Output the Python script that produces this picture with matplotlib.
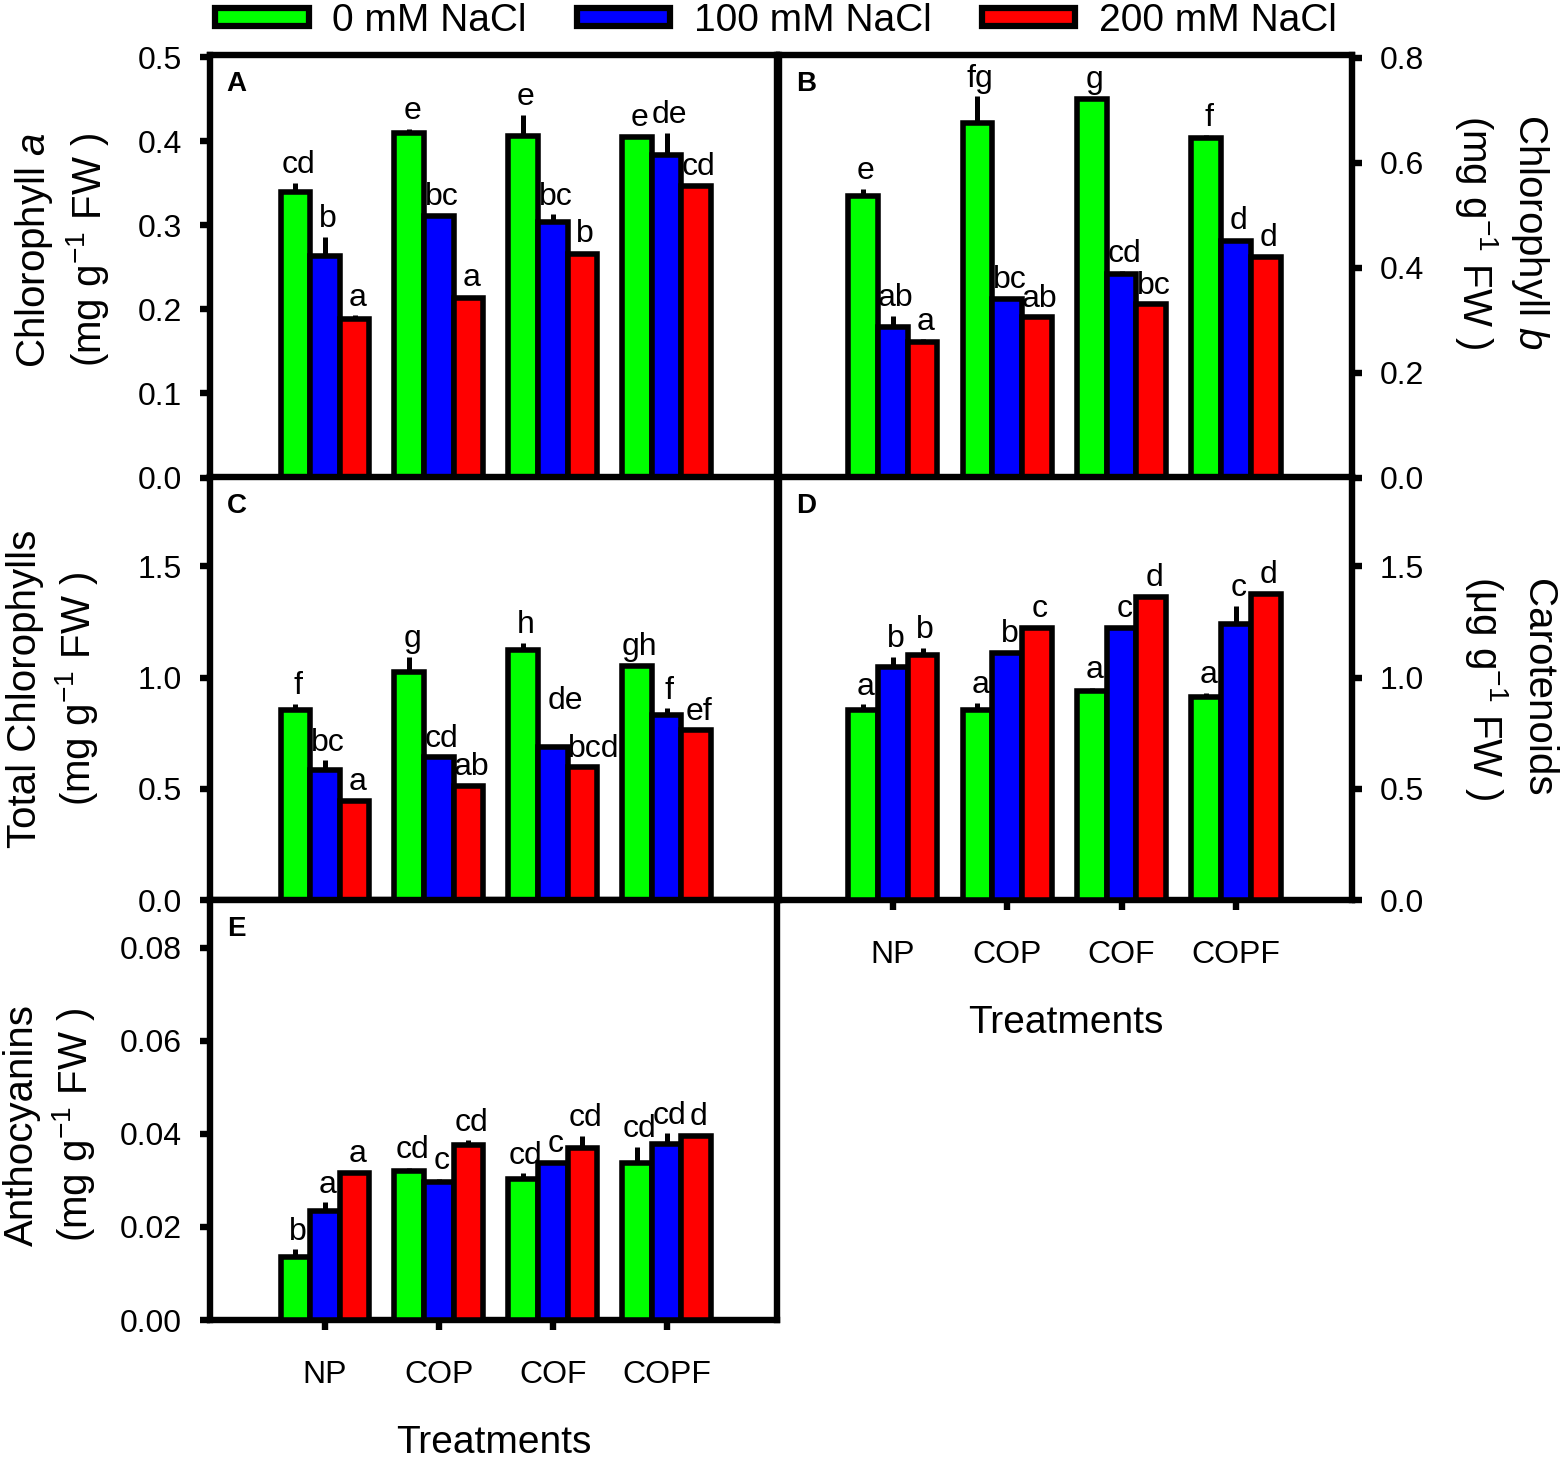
import numpy as np
import matplotlib
matplotlib.use("Agg")
import matplotlib.pyplot as plt
from matplotlib.patches import Patch

plt.rcParams['font.family'] = ['Liberation Sans', 'DejaVu Sans']
plt.rcParams['mathtext.fontset'] = 'custom'
plt.rcParams['mathtext.rm'] = 'Liberation Sans'
plt.rcParams['mathtext.it'] = 'Liberation Sans:italic'
plt.rcParams['mathtext.bf'] = 'Liberation Sans:bold'

# ---------------- data ----------------
treatments = ["NP", "COP", "COF", "COPF"]
series_names = ["0 mM NaCl", "100 mM NaCl", "200 mM NaCl"]
series_colors = ["#00FF00", "#0000FF", "#FF0000"]

# Panel A: Chlorophyll a
chla_0 = [0.340, 0.410, 0.406, 0.405]
chla_100 = [0.264, 0.311, 0.304, 0.384]
chla_200 = [0.188, 0.214, 0.266, 0.347]
chla_err_0 = [0.010, 0.005, 0.025, 0.002]
chla_err_100 = [0.022, 0.002, 0.009, 0.026]
chla_err_200 = [0.005, 0.002, 0.002, 0.001]
chla_letters_0 = ["cd", "e", "e", "e"]
chla_letters_100 = ["b", "bc", "bc", "de"]
chla_letters_200 = ["a", "a", "b", "cd"]

# Panel B: Chlorophyll b
chlb_0 = [0.536, 0.675, 0.722, 0.646]
chlb_100 = [0.287, 0.340, 0.388, 0.451]
chlb_200 = [0.259, 0.305, 0.330, 0.420]
chlb_err_0 = [0.014, 0.051, 0.002, 0.006]
chlb_err_100 = [0.021, 0.002, 0.005, 0.004]
chlb_err_200 = [0.004, 0.002, 0.002, 0.002]
chlb_letters_0 = ["e", "fg", "g", "f"]
chlb_letters_100 = ["ab", "bc", "cd", "d"]
chlb_letters_200 = ["a", "ab", "bc", "d"]

# Panel C: Total chlorophylls
tot_0 = [0.853, 1.024, 1.126, 1.051]
tot_100 = [0.586, 0.643, 0.688, 0.830]
tot_200 = [0.446, 0.514, 0.596, 0.763]
tot_err_0 = [0.028, 0.068, 0.030, 0.007]
tot_err_100 = [0.042, 0.003, 0.004, 0.032]
tot_err_200 = [0.007, 0.004, 0.003, 0.003]
tot_letters_0 = ["f", "g", "h", "gh"]
tot_letters_100 = ["bc", "cd", "de", "f"]
tot_letters_200 = ["a", "ab", "bcd", "ef"]

# Panel D: Carotenoids
car_0 = [0.855, 0.855, 0.942, 0.913]
car_100 = [1.047, 1.113, 1.225, 1.242]
car_200 = [1.100, 1.225, 1.363, 1.375]
car_err_0 = [0.025, 0.033, 0.013, 0.017]
car_err_100 = [0.045, 0.005, 0.005, 0.080]
car_err_200 = [0.033, 0.004, 0.004, 0.005]
car_letters_0 = ["a", "a", "a", "a"]
car_letters_100 = ["b", "b", "c", "c"]
car_letters_200 = ["b", "c", "d", "d"]

# Panel E: Anthocyanins
ant_0 = [0.0136, 0.0321, 0.0303, 0.0337]
ant_100 = [0.0235, 0.0297, 0.0337, 0.0378]
ant_200 = [0.0316, 0.0377, 0.0369, 0.0396]
ant_err_0 = [0.0016, 0.0006, 0.0012, 0.0035]
ant_err_100 = [0.0018, 0.0006, 0.0003, 0.0023]
ant_err_200 = [0.0003, 0.0009, 0.0027, 0.0002]
ant_letters_0 = ["b", "cd", "cd", "cd"]
ant_letters_100 = ["a", "c", "c", "cd"]
ant_letters_200 = ["a", "cd", "cd", "d"]

# y-axis ticks
chla_ticks = [0.0, 0.1, 0.2, 0.3, 0.4, 0.5]
chlb_ticks = [0.0, 0.2, 0.4, 0.6, 0.8]
tot_ticks = [0.0, 0.5, 1.0, 1.5]
car_ticks = [0.0, 0.5, 1.0, 1.5]
ant_ticks = [0.00, 0.02, 0.04, 0.06, 0.08]

# ---------------- figure ----------------
W, H = 1562, 1462
fig = plt.figure(figsize=(W / 100, H / 100), dpi=100)


def px_axes(x0, y0, x1, y1):
    return fig.add_axes([x0 / W, 1 - y1 / H, (x1 - x0) / W, (y1 - y0) / H])


SPINE_LW = 4.6
BAR_W = 0.26
TICK_FS = 23
LAB_FS = 29
LET_FS = 23

# manual label nudges (points) as in the reference layout
label_nudge = {("C", 1, 2): (7, 20), ("C", 2, 2): (6, 0)}


def draw_panel(ax, name, vals, errs, letters, ylim, yticks, fmt, xlim,
               right=False, show_xlabels=False):
    x = np.arange(len(treatments))
    offsets = [-BAR_W, 0.0, BAR_W]
    for k in range(3):
        xs = x + offsets[k]
        v = np.array(vals[k])
        e = np.array(errs[k])
        ax.bar(xs, v, width=BAR_W, color=series_colors[k], edgecolor="black",
               linewidth=4.0, zorder=3)
        ax.errorbar(xs, v, yerr=[np.zeros_like(e), e], fmt="none",
                    ecolor="black", elinewidth=3.6, capsize=0, zorder=2)
        for i, (xi, vi, ei, lt) in enumerate(zip(xs, v, e, letters[k])):
            dx, dy = label_nudge.get((name, k, i), (0, 0))
            ax.annotate(lt, (xi, vi + ei), xytext=(2 + dx, 7 + dy),
                        textcoords="offset points", ha="center",
                        va="baseline", fontsize=LET_FS, zorder=1)
    ax.set_xlim(*xlim)
    ax.set_ylim(*ylim)
    ax.set_yticks(yticks)
    ax.set_yticklabels([fmt.format(t) for t in yticks])
    ax.set_xticks(x)
    for s in ax.spines.values():
        s.set_linewidth(SPINE_LW)
    ax.tick_params(axis="both", direction="out", length=7, width=SPINE_LW,
                   labelsize=TICK_FS)
    ax.tick_params(axis="y", pad=13)
    ax.tick_params(axis="x", pad=22)
    if show_xlabels:
        ax.set_xticklabels(treatments)
        ax.set_xlabel("Treatments", fontsize=28, labelpad=25)
    else:
        ax.set_xticklabels([])
    if right:
        ax.yaxis.tick_right()
    ax.text(0.047, 0.932, name, transform=ax.transAxes,
            ha="center", va="center", fontsize=20, fontweight="bold")


xl_left = (-1.01, 3.97)
xl_right = (-0.995, 4.015)

axA = px_axes(210, 55, 777, 477.5)
draw_panel(axA, "A", [chla_0, chla_100, chla_200],
           [chla_err_0, chla_err_100, chla_err_200],
           [chla_letters_0, chla_letters_100, chla_letters_200],
           (0, 0.5025), chla_ticks, "{:.1f}", xl_left)

axB = px_axes(779, 55, 1352, 477.5)
draw_panel(axB, "B", [chlb_0, chlb_100, chlb_200],
           [chlb_err_0, chlb_err_100, chlb_err_200],
           [chlb_letters_0, chlb_letters_100, chlb_letters_200],
           (0, 0.805), chlb_ticks, "{:.1f}", xl_right, right=True)

axC = px_axes(210, 477.5, 777, 900)
draw_panel(axC, "C", [tot_0, tot_100, tot_200],
           [tot_err_0, tot_err_100, tot_err_200],
           [tot_letters_0, tot_letters_100, tot_letters_200],
           (0, 1.9), tot_ticks, "{:.1f}", xl_left)

axD = px_axes(779, 477.5, 1352, 900)
draw_panel(axD, "D", [car_0, car_100, car_200],
           [car_err_0, car_err_100, car_err_200],
           [car_letters_0, car_letters_100, car_letters_200],
           (0, 1.9), car_ticks, "{:.1f}", xl_right, right=True,
           show_xlabels=True)

axE = px_axes(210, 900, 777, 1320)
draw_panel(axE, "E", [ant_0, ant_100, ant_200],
           [ant_err_0, ant_err_100, ant_err_200],
           [ant_letters_0, ant_letters_100, ant_letters_200],
           (0, 0.0903), ant_ticks, "{:.2f}", xl_left, show_xlabels=True)

# y labels
unit = "(mg g$^{-1}$ FW )"
fig.text(62 / W, 1 - 250 / H, "Chlorophyll $\\it{a}$\n" + unit, rotation=90,
         ha="center", va="center", fontsize=LAB_FS, linespacing=1.25,
         multialignment="center")
fig.text(53 / W, 1 - 689 / H, "Total Chlorophylls\n" + unit, rotation=90,
         ha="center", va="center", fontsize=LAB_FS, linespacing=1.25,
         multialignment="center")
fig.text(50 / W, 1 - 1125 / H, "Anthocyanins\n" + unit, rotation=90,
         ha="center", va="center", fontsize=LAB_FS, linespacing=1.25,
         multialignment="center")
fig.text(1502 / W, 1 - 232 / H, "Chlorophyll $\\it{b}$\n" + unit, rotation=270,
         ha="center", va="center", fontsize=LAB_FS, linespacing=1.25,
         multialignment="center")
fig.text(1510 / W, 1 - 688 / H, "Carotenoids\n(\u03bcg g$^{-1}$ FW )",
         rotation=270, ha="center", va="center", fontsize=LAB_FS,
         linespacing=1.25, multialignment="center")

# legend
handles = [Patch(facecolor=c, edgecolor="black", linewidth=4.5,
                 joinstyle="round") for c in series_colors]
fig.legend(handles, series_names, loc="center", ncol=3,
           bbox_to_anchor=(776 / W, 1 - 21 / H), frameon=False, fontsize=28,
           handlelength=2.4, handleheight=0.3, handletextpad=0.6,
           columnspacing=1.3, borderpad=0, borderaxespad=0)

fig.savefig("out.png", dpi=100)
